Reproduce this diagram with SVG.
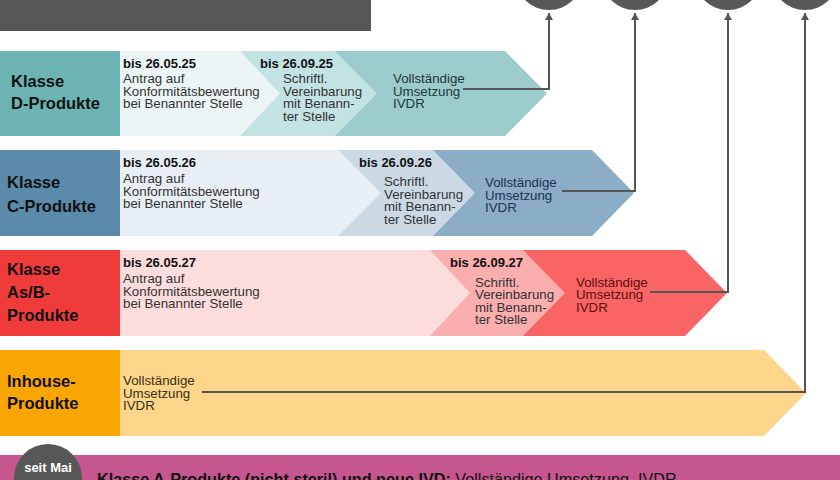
<svg xmlns="http://www.w3.org/2000/svg" width="840" height="480" viewBox="0 0 840 480">
<defs>
<style>
.lbl{font-family:"Liberation Sans",Arial,sans-serif;font-weight:bold;font-size:16.5px;fill:#111}
.date{font-family:"Liberation Sans",Arial,sans-serif;font-weight:bold;font-size:13px;fill:#111}
.t{font-family:"Liberation Sans",Arial,sans-serif;font-size:13.3px;fill:#333}
.con{fill:none;stroke:#555;stroke-width:2}
.circ{fill:#575757}
</style>
<marker id="arr" viewBox="0 0 10 10" refX="5" refY="1" markerWidth="8" markerHeight="8" markerUnits="userSpaceOnUse" orient="auto-start-reverse">
<path d="M0,0 L10,5 L0,10 Z" fill="#555" transform="rotate(0)"/>
</marker>
<marker id="up" viewBox="0 0 8 8" refX="4" refY="0" markerWidth="8" markerHeight="8" markerUnits="userSpaceOnUse" orient="0">
<path d="M0,7 L4,0 L8,7 Z" fill="#555"/>
</marker>
</defs>
<rect width="840" height="480" fill="#ffffff"/>
<g id="header"><rect x="0" y="0" width="371" height="31" fill="#575757"/></g>
<g id="milestones">
<circle class="circ" cx="549" cy="-24" r="34"/>
<circle class="circ" cx="635" cy="-24" r="34"/>
<circle class="circ" cx="728" cy="-24" r="34"/>
<circle class="circ" cx="805" cy="-24" r="34"/>
</g>
<g id="row-d">
<polygon points="300,51 505,51 547,93.5 505,136 300,136" fill="#9ccbcc"/>
<polygon points="200,51 335,51 377,93.5 335,136 200,136" fill="#c3e2e2"/>
<polygon points="120,51 240,51 280,93.5 240,136 120,136" fill="#ecf5f5"/>
<rect x="0" y="51" width="120" height="85" fill="#6cb4b4"/>
<text class="lbl" x="11" y="87">Klasse</text>
<text class="lbl" x="11" y="109">D-Produkte</text>
<text class="date" x="123" y="68">bis 26.05.25</text>
<text class="t" x="123" y="83">Antrag auf</text>
<text class="t" x="123" y="95.5">Konformitätsbewertung</text>
<text class="t" x="123" y="108">bei Benannter Stelle</text>
<text class="date" x="260" y="68">bis 26.09.25</text>
<text class="t" x="283" y="83">Schriftl.</text>
<text class="t" x="283" y="95.5">Vereinbarung</text>
<text class="t" x="283" y="108">mit Benann-</text>
<text class="t" x="283" y="120.5">ter Stelle</text>
<text class="t" x="393" y="83" style="fill:#1e3838">Vollständige</text>
<text class="t" x="393" y="95.5" style="fill:#1e3838">Umsetzung</text>
<text class="t" x="393" y="108" style="fill:#1e3838">IVDR</text>
</g>
<g id="row-c">
<polygon points="400,150 592,150 634,193 592,236 400,236" fill="#8cadc6"/>
<polygon points="300,150 433,150 475,193 433,236 300,236" fill="#cbd9e5"/>
<polygon points="120,150 338,150 381,193 338,236 120,236" fill="#e7eef4"/>
<rect x="0" y="150" width="120" height="86" fill="#5b8aaa"/>
<text class="lbl" x="7" y="188">Klasse</text>
<text class="lbl" x="7" y="212">C-Produkte</text>
<text class="date" x="123" y="167">bis 26.05.26</text>
<text class="t" x="123" y="183">Antrag auf</text>
<text class="t" x="123" y="195.5">Konformitätsbewertung</text>
<text class="t" x="123" y="208">bei Benannter Stelle</text>
<text class="date" x="359" y="167">bis 26.09.26</text>
<text class="t" x="384" y="186">Schriftl.</text>
<text class="t" x="384" y="198.5">Vereinbarung</text>
<text class="t" x="384" y="211">mit Benann-</text>
<text class="t" x="384" y="223.5">ter Stelle</text>
<text class="t" x="485" y="187" style="fill:#1d3350">Vollständige</text>
<text class="t" x="485" y="199.5" style="fill:#1d3350">Umsetzung</text>
<text class="t" x="485" y="212" style="fill:#1d3350">IVDR</text>
</g>
<g id="row-ab">
<polygon points="480,250 685,250 727,293 685,336 480,336" fill="#f96464"/>
<polygon points="400,250 523,250 565,293 523,336 400,336" fill="#faaeae"/>
<polygon points="120,250 430,250 470,293 430,336 120,336" fill="#fddcdc"/>
<rect x="0" y="250" width="120" height="86" fill="#f03b3b"/>
<text class="lbl" x="7" y="275">Klasse</text>
<text class="lbl" x="7" y="298">As/B-</text>
<text class="lbl" x="7" y="321">Produkte</text>
<text class="date" x="123" y="267">bis 26.05.27</text>
<text class="t" x="123" y="283">Antrag auf</text>
<text class="t" x="123" y="295.5">Konformitätsbewertung</text>
<text class="t" x="123" y="308">bei Benannter Stelle</text>
<text class="date" x="450" y="267">bis 26.09.27</text>
<text class="t" x="475" y="286.5">Schriftl.</text>
<text class="t" x="475" y="299">Vereinbarung</text>
<text class="t" x="475" y="311.5">mit Benann-</text>
<text class="t" x="475" y="324">ter Stelle</text>
<text class="t" x="576" y="286.5" style="fill:#5a1212">Vollständige</text>
<text class="t" x="576" y="299" style="fill:#5a1212">Umsetzung</text>
<text class="t" x="576" y="311.5" style="fill:#5a1212">IVDR</text>
</g>
<g id="row-inhouse">
<polygon points="120,350 764,350 806,393 764,436 120,436" fill="#fdd68b"/>
<rect x="0" y="350" width="120" height="86" fill="#f9a603"/>
<text class="lbl" x="7" y="387">Inhouse-</text>
<text class="lbl" x="7" y="409">Produkte</text>
<text class="t" x="123" y="385" style="fill:#3a2e14">Vollständige</text>
<text class="t" x="123" y="397.5" style="fill:#3a2e14">Umsetzung</text>
<text class="t" x="123" y="410" style="fill:#3a2e14">IVDR</text>
</g>
<g id="connectors">
<polyline class="con" points="463,89 549,89 549,13" marker-end="url(#up)"/>
<polyline class="con" points="562,191 635,191 635,13" marker-end="url(#up)"/>
<polyline class="con" points="650,292 728,292 728,13" marker-end="url(#up)"/>
<polyline class="con" points="202,392 805,392 805,13" marker-end="url(#up)"/>
</g>
<g id="footer">
<rect x="0" y="455" width="840" height="25" fill="#c5568e"/>
<circle class="circ" cx="48" cy="478" r="34"/>
<text x="48" y="472" text-anchor="middle" style="font-family:'Liberation Sans',Arial,sans-serif;font-weight:bold;font-size:13px;fill:#ffffff">seit Mai</text>
<text x="97" y="485" style="font-family:'Liberation Sans',Arial,sans-serif;font-size:16.2px;fill:#111"><tspan font-weight="bold">Klasse A-Produkte (nicht steril) und neue IVD:</tspan> Vollständige Umsetzung, IVDR</text>
</g>
</svg>
